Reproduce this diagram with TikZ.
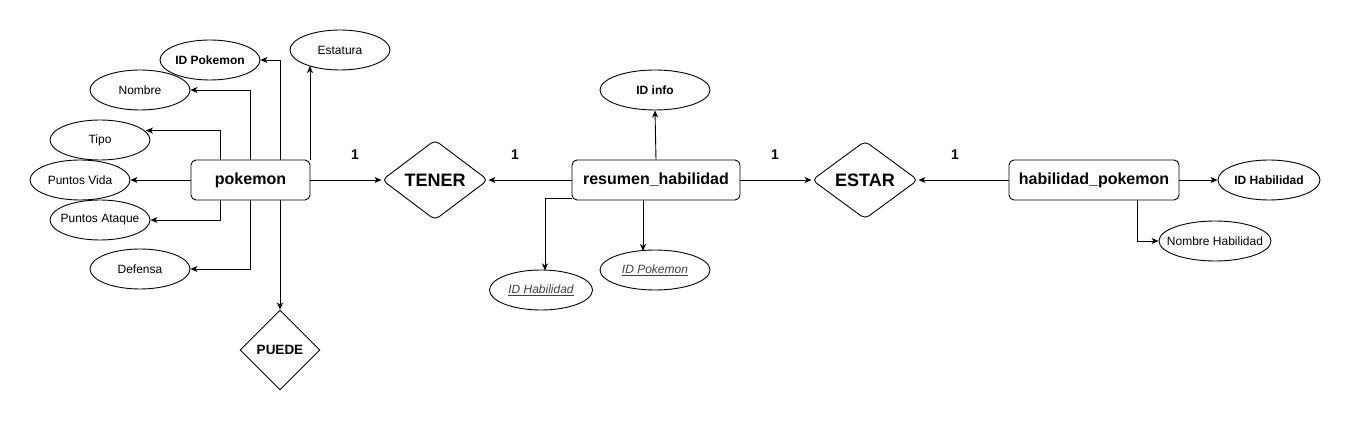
\documentclass[tikz,border=0pt]{standalone}
\usepackage{fontspec}
\setmainfont{Liberation Sans}
\usetikzlibrary{shapes.geometric,arrows.meta}
\newcommand{\zb}[1]{\makebox[0pt]{#1}}
\begin{document}
\begin{tikzpicture}[x=1pt,y=-1pt,
  ent/.style={draw,rounded corners=5pt,line width=0.9pt,minimum width=#1,minimum height=40pt,inner sep=0pt,font=\fontsize{16}{18}\selectfont\bfseries},
  attr/.style={draw,ellipse,line width=0.9pt,minimum width=#1,minimum height=40pt,inner sep=0pt,font=\fontsize{12}{14}\selectfont},
  rel/.style={draw,diamond,rounded corners=5pt,line width=0.9pt,inner sep=0pt,font=\fontsize{18}{20}\selectfont\bfseries},
  card/.style={font=\fontsize{14}{16}\selectfont\bfseries},
  conn/.style={line width=0.9pt,-{Stealth[length=7pt,width=6pt,inset=2pt]}}
]
\useasboundingbox (0,0) rectangle (1350,422);
% entities
\node[ent=119pt] (pk) at (250.5,180) {pokemon};
\node[ent=168pt] (rh) at (656,180) {resumen\_habilidad};
\node[ent=170pt] (hp) at (1094,180) {habilidad\_pokemon};
% relations
\node[rel,minimum width=106pt,minimum height=80pt] (tener) at (435,180) {TENER};
\node[rel,minimum width=106pt,minimum height=78pt] (estar) at (865,180) {ESTAR};
\node[rel,rounded corners=0pt,minimum width=80pt,minimum height=80pt,font=\fontsize{13.5}{15}\selectfont\bfseries] (puede) at (280,350) {PUEDE};
% pokemon attributes
\node[attr=100pt,font=\fontsize{12}{14}\selectfont\bfseries] (idp) at (210,60) {\zb{ID Pokemon}};
\node[attr=100pt] (est) at (340,50) {\zb{Estatura}};
\node[attr=100pt] (nom) at (140,90) {\zb{Nombre}};
\node[attr=100pt] (tipo) at (100,140) {\zb{Tipo}};
\node[attr=100pt] (pv) at (80,180) {\zb{Puntos Vida}};
\node[attr=100pt] (pa) at (100,220) {\zb{Puntos Ataque}};
\node[attr=100pt] (def) at (140,269) {\zb{Defensa}};
% resumen attributes
\node[attr=110pt,font=\fontsize{12}{14}\selectfont\bfseries] (idi) at (655,90) {\zb{ID info}};
\node[attr=110pt,text=black!75,font=\fontsize{12}{14}\selectfont\itshape] (idp2) at (655,270) {\zb{\underline{ID Pokemon}}};
\node[attr=103pt,text=black!75,font=\fontsize{12}{14}\selectfont\itshape] (idh2) at (541,290) {\zb{\underline{ID Habilidad}}};
% habilidad attributes
\node[attr=102pt,font=\fontsize{12}{14}\selectfont\bfseries] (idh) at (1269,180) {\zb{ID Habilidad}};
\node[attr=112pt] (nh) at (1215,241) {\zb{Nombre Habilidad}};
% cardinalities
\node[card] (c1) at (355,155) {1};
\node[card] (c2) at (515,155) {1};
\node[card] (c3) at (775,155) {1};
\node[card] (c4) at (955,155) {1};
% connectors pokemon
\coordinate (pkt1) at (280,160);
\coordinate (pkt2) at (250,160);
\coordinate (pkt3) at (220,160);
\coordinate (pkt4) at (310,160);
\coordinate (pkb1) at (220,200);
\coordinate (pkb2) at (250,200);
\coordinate (pkb3) at (280,200);
\draw[conn] (pkt1) |- (idp.east);
\draw[conn] (pkt2) |- (nom.east);
\draw[conn] (pkt3) |- (146,130.5);
\draw[conn] (pkt4) -- (310,66);
\draw[conn] (pk.west) -- (pv.east);
\draw[conn] (pkb1) |- (pa.east);
\draw[conn] (pkb2) |- (def.east);
\draw[conn] (pkb3) -- (puede.north);
\draw[conn] (pk.east) -- (tener.west);
% connectors resumen
\draw[conn] (rh.west) -- (tener.east);
\draw[conn] (rh.north) -- (idi.south);
\coordinate (rhb) at (643,200);
\draw[conn] (rhb) -- (643,251);
\coordinate (rhl) at (572,198);
\draw[conn] (rhl) -| (545,270.5);
\draw[conn] (rh.east) -- (estar.west);
% connectors habilidad
\draw[conn] (hp.west) -- (estar.east);
\draw[conn] (hp.east) -- (idh.west);
\coordinate (hpb) at (1137,200);
\draw[conn] (hpb) |- (nh.west);
\end{tikzpicture}
\end{document}
